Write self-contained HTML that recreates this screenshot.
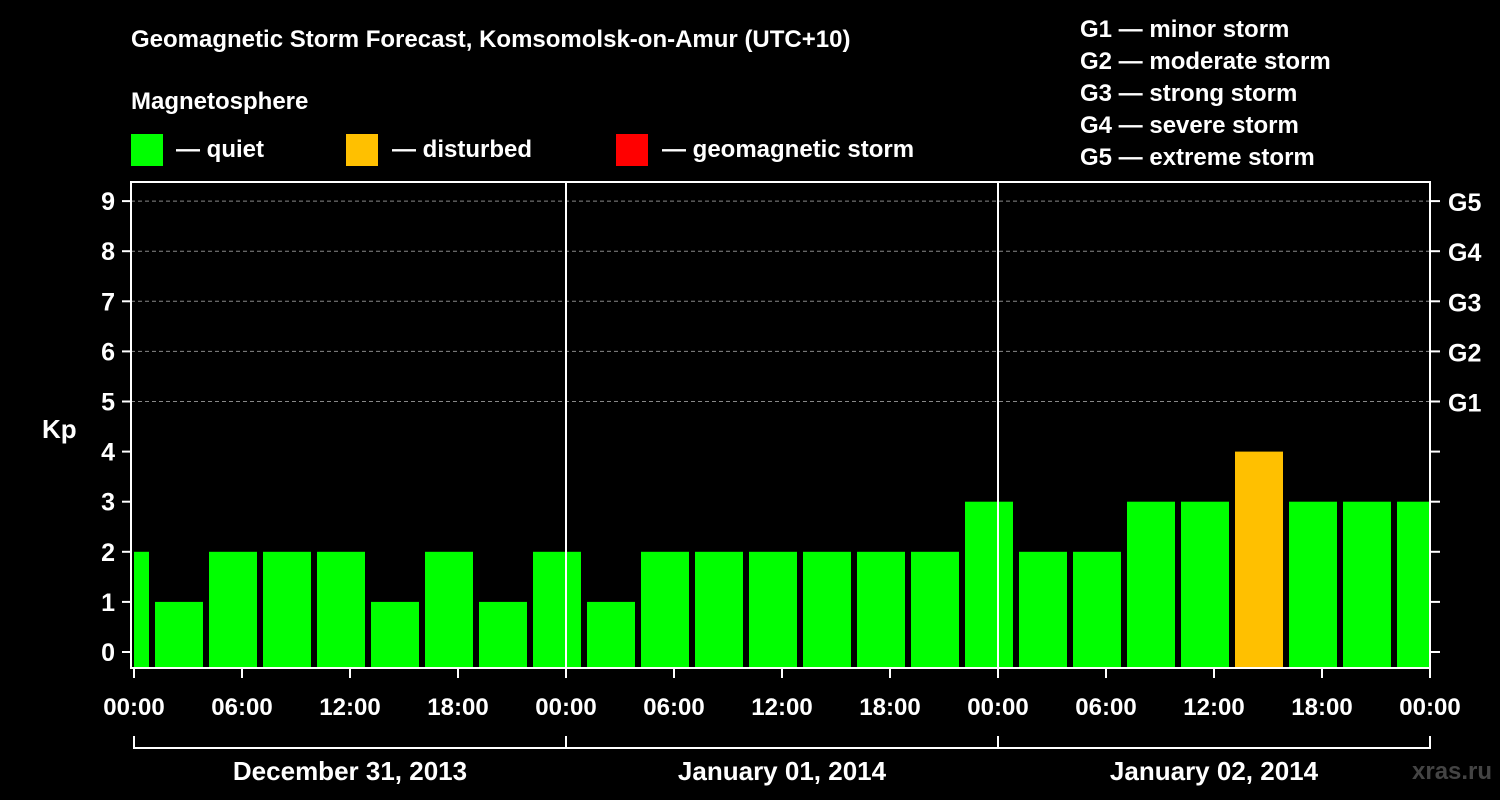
<!DOCTYPE html>
<html><head><meta charset="utf-8"><style>
html,body{margin:0;padding:0;background:#000;}
svg{display:block;font-family:"Liberation Sans",Arial,sans-serif;font-weight:bold;}
</style></head><body>
<svg id="chart" width="1500" height="800" viewBox="0 0 1500 800">
<rect x="0" y="0" width="1500" height="800" fill="#000"/>
<text x="131" y="47" fill="#fff" font-size="24">Geomagnetic Storm Forecast, Komsomolsk-on-Amur (UTC+10)</text>
<text x="131" y="109" fill="#fff" font-size="24">Magnetosphere</text>
<g><rect x="131" y="134" width="32" height="32" fill="#00ff00"/><text x="176" y="157" fill="#fff" font-size="24">— quiet</text></g>
<g><rect x="346" y="134" width="32" height="32" fill="#ffc000"/><text x="392" y="157" fill="#fff" font-size="24">— disturbed</text></g>
<g><rect x="616" y="134" width="32" height="32" fill="#ff0000"/><text x="662" y="157" fill="#fff" font-size="24">— geomagnetic storm</text></g>
<g fill="#fff" font-size="24">
<text x="1080" y="37">G1 — minor storm</text>
<text x="1080" y="69">G2 — moderate storm</text>
<text x="1080" y="101">G3 — strong storm</text>
<text x="1080" y="133">G4 — severe storm</text>
<text x="1080" y="165">G5 — extreme storm</text>
</g>
<text x="42" y="438" fill="#fff" font-size="26">Kp</text>
<text x="1412" y="779" fill="#444" font-size="24">xras.ru</text>
<g id="grid"></g><g id="bars"></g><g id="axes"></g>
</svg>
<script>
const kpValues=[2,1,2,2,2,1,2,1,2,1,2,2,2,2,2,2,3,2,2,3,3,4,3,3,3];
const binStartHours=[-2,1,4,7,10,13,16,19,22,25,28,31,34,37,40,43,46,49,52,55,58,61,64,67,70];
const yTicks=[0,1,2,3,4,5,6,7,8,9];
const gLabels=["G1","G2","G3","G4","G5"];
const xTickLabels=["00:00","06:00","12:00","18:00","00:00","06:00","12:00","18:00","00:00","06:00","12:00","18:00","00:00"];
const dayLabels=["December 31, 2013","January 01, 2014","January 02, 2014"];
const NS="http://www.w3.org/2000/svg";
const L=134,R=1430,T=182,B=668;
const xOf=h=>L+(h/72)*(R-L);
const yOf=v=>652-v*50.1;
function mk(tag,attrs,parent,txt){const e=document.createElementNS(NS,tag);for(const k in attrs)e.setAttribute(k,attrs[k]);if(txt!==undefined)e.textContent=txt;parent.appendChild(e);return e;}
const grid=document.getElementById('grid'),bars=document.getElementById('bars'),axes=document.getElementById('axes');
for(let i=5;i<=9;i++){const g=mk('line',{x1:131,x2:R,y1:yOf(i),y2:yOf(i),stroke:'#888','stroke-dasharray':'4,3','stroke-width':1},grid);

}
kpValues.forEach((v,i)=>{const s=binStartHours[i];let x1=xOf(s)+3,x2=xOf(s+3)-3;x1=Math.max(x1,L);x2=Math.min(x2,R);
const c=v>=5?'#ff0000':(v>=4?'#ffc000':'#00ff00');
const r=mk('rect',{x:x1,y:yOf(v),width:x2-x1,height:B-yOf(v),fill:c},bars);

});
[1,2].forEach(d=>{const l=mk('line',{x1:xOf(d*24),x2:xOf(d*24),y1:T,y2:B,stroke:'#fff','stroke-width':2},axes);

});
const frame=mk('rect',{x:131,y:T,width:R-131,height:B-T,fill:'none',stroke:'#fff','stroke-width':2},axes);


yTicks.forEach(v=>{const y=yOf(v);
mk('line',{x1:122,x2:131,y1:y,y2:y,stroke:'#fff','stroke-width':2},axes);
mk('line',{x1:R,x2:R+10,y1:y,y2:y,stroke:'#fff','stroke-width':2},axes);
const t=mk('text',{x:115,y:y+9,fill:'#fff','font-size':25,'text-anchor':'end'},axes,String(v));


if(v>=5){const g=mk('text',{x:1448,y:y+10,fill:'#fff','font-size':25},axes,gLabels[v-5]);

}});
xTickLabels.forEach((lab,i)=>{const x=xOf(i*6);
mk('line',{x1:x,x2:x,y1:B,y2:B+10,stroke:'#fff','stroke-width':2},axes);
const t=mk('text',{x:x,y:715,fill:'#fff','font-size':24,'text-anchor':'middle'},axes,lab);

});
mk('line',{x1:L,x2:R,y1:748,y2:748,stroke:'#fff','stroke-width':2},axes);
[0,1,2,3].forEach(d=>mk('line',{x1:xOf(d*24),x2:xOf(d*24),y1:736,y2:749,stroke:'#fff','stroke-width':2},axes));
dayLabels.forEach((lab,i)=>{const t=mk('text',{x:xOf(i*24+12),y:780,fill:'#fff','font-size':26,'text-anchor':'middle'},axes,lab);

});
</script>
</body></html>
